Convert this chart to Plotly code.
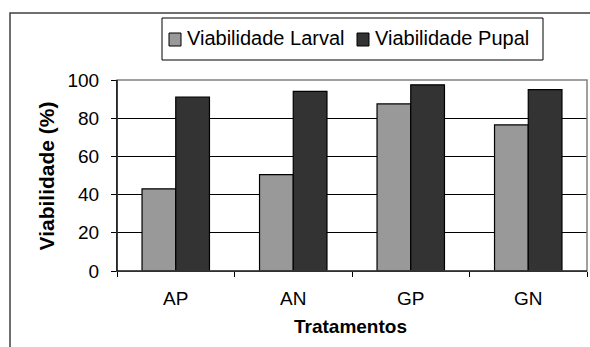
import plotly.graph_objects as go

categories = ["AP", "AN", "GP", "GN"]
larval = [43, 50.5, 87.5, 76.5]
pupal = [91, 94, 97.5, 95]
series_names = ["Viabilidade Larval", "Viabilidade Pupal"]
series_colors = ["#999999", "#333333"]
y_ticks = [0, 20, 40, 60, 80, 100]

FONT = "Liberation Sans, Arial, sans-serif"

# plot-area geometry in pixels (for converting overlay positions to paper coords)
L, R, T, B = 117, 587, 80, 271
def px(x):
    return (x - L) / (R - L)
def py(y):
    return (B - y) / (B - T)

fig = go.Figure()
for name, vals, col in zip(series_names, [larval, pupal], series_colors):
    fig.add_trace(go.Bar(x=categories, y=vals, name=name,
                         marker=dict(color=col, line=dict(color="black", width=1.2))))

shapes = [
    # outer chart frame
    dict(type="rect", xref="paper", yref="paper", x0=px(10), x1=px(600),
         y0=py(360), y1=py(13), line=dict(color="#404040", width=1.5), layer="below"),
    # plot-area border (grey)
    dict(type="rect", xref="paper", yref="paper", x0=0, x1=1, y0=0, y1=1,
         line=dict(color="#808080", width=1.5), layer="above"),
    dict(type="line", xref="paper", yref="paper", x0=0, x1=0, y0=0, y1=1,
         line=dict(color="black", width=1.2), layer="above"),
    dict(type="line", xref="paper", yref="paper", x0=0, x1=1, y0=0, y1=0,
         line=dict(color="black", width=1.2), layer="above"),
    # legend box
    dict(type="rect", xref="paper", yref="paper", x0=px(162), x1=px(543),
         y0=py(60), y1=py(18), line=dict(color="black", width=1), fillcolor="white"),
]
annotations = []
legend_items = [(169, 185), (357, 373)]
for (sx, tx), name, col in zip(legend_items, series_names, series_colors):
    shapes.append(dict(type="rect", xref="paper", yref="paper", x0=px(sx), x1=px(sx + 12),
                       y0=py(46), y1=py(33), line=dict(color="black", width=1), fillcolor=col))
    annotations.append(dict(text=name, xref="paper", yref="paper", x=px(tx), y=py(38),
                            xanchor="left", yanchor="middle", showarrow=False,
                            font=dict(size=20, family=FONT, color="black")))

annotations.append(dict(text="<b>Viabilidade (%)</b>", xref="paper", yref="paper",
                        x=px(45.5), y=py(176), textangle=-90, showarrow=False,
                        xanchor="center", yanchor="middle",
                        font=dict(size=21, family=FONT, color="black")))
annotations.append(dict(text="<b>Tratamentos</b>", xref="paper", yref="paper",
                        x=px(350), y=py(326), showarrow=False,
                        xanchor="center", yanchor="middle",
                        font=dict(size=19, family=FONT, color="black")))

fig.update_layout(
    width=590, height=347,
    margin=dict(l=L, r=590 - R, t=T, b=347 - B),
    paper_bgcolor="white", plot_bgcolor="white",
    barmode="group", bargap=0.426, bargroupgap=0,
    font=dict(family=FONT, size=19, color="black"),
    showlegend=False,
    xaxis=dict(type="category", tickson="boundaries", ticks="outside", ticklen=5,
               tickcolor="black", showline=True, linecolor="black", linewidth=1.2,
               showgrid=False, automargin=False, ticklabelstandoff=10,
               tickfont=dict(size=19)),
    yaxis=dict(range=[0, 100], tickvals=y_ticks, ticks="outside", ticklen=5,
               tickcolor="black", showline=True, linecolor="black", linewidth=1.2,
               showgrid=True, gridcolor="black", gridwidth=1, zeroline=False,
               automargin=False, ticklabelstandoff=8,
               tickfont=dict(size=19)),
    shapes=shapes,
    annotations=annotations,
)

fig.write_html("out.html", config={"displayModeBar": False},
               post_script="document.body.style.margin='0';document.body.style.overflow='hidden';")
